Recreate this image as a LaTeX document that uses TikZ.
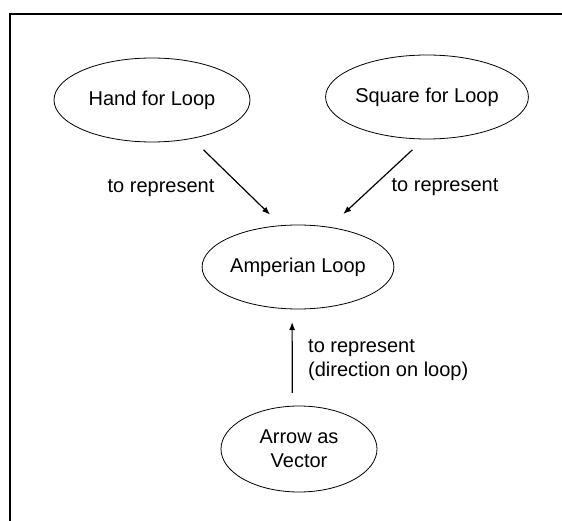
\documentclass[tikz,border=0pt]{standalone}
\usepackage{fontspec}
\setmainfont{Liberation Sans}
\usetikzlibrary{shapes.geometric,arrows.meta}
\begin{document}
\begin{tikzpicture}[x=1pt,y=-1pt,->,>={Latex[length=8pt,width=6pt]},
        concept/.style={draw,ellipse,line width=0.8pt,inner sep=0pt,outer sep=0pt,
            minimum height=84pt,align=center,font=\fontsize{20}{24}\selectfont},
        note/.style={inner sep=0pt,align=left,font=\fontsize{20}{24}\selectfont}]
        \useasboundingbox (0,0) rectangle (562,521);
        \draw[-,line width=1.5pt] (10,521) -- (10,14) -- (562,14);
        \node (hand) [concept,minimum width=196pt] at (152,100) {Hand for Loop};
        \node (square) [concept,minimum width=200pt] at (427,97) {Square for Loop};
        \node (amp) [concept,minimum width=154pt] at (298,267) {Amperian Loop};
        \node (vec) [concept,minimum width=156pt,minimum height=86pt] at (299,449) {Arrow as\\Vector};
        \node (to1) [note] at (161,188) {to represent};
        \node (to2) [note] at (445,187) {to represent};
        \node (to3) [note,anchor=west] at (308,360) {to represent\\(direction on loop)};
        \path[line width=1.2pt]
        (hand.-44.5) edge [shorten <=16.5pt,shorten >=15.7pt] (amp.112)
        (square.-94) edge [shorten <=16pt,shorten >=19.4pt] (amp.52.5)
        (vec.99.3) edge [shorten <=13.2pt,shorten >=13.1pt] (amp.-98.1);
    \end{tikzpicture}
\end{document}
